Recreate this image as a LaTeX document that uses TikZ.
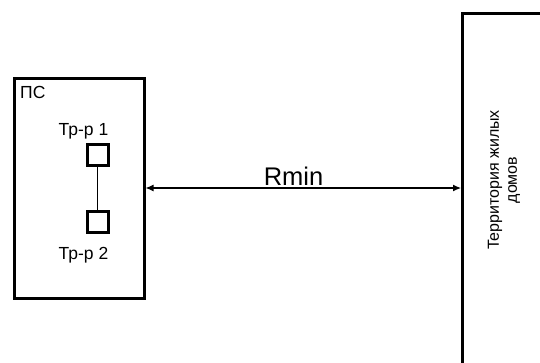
\documentclass[tikz,border=0pt]{standalone}
\usepackage{fontspec}
\setmainfont{Liberation Sans}
\usetikzlibrary{arrows.meta, positioning}

\begin{document}
\begin{tikzpicture}[
    x=1pt, y=-1pt,
    % Box and line styles
    psbox/.style={rectangle, draw=black, line width=3pt, fill=white,
        minimum width=130pt, minimum height=220pt, inner sep=0pt},
    zonebox/.style={rectangle, draw=black, line width=3pt, fill=white,
        minimum width=86pt, minimum height=420pt, inner sep=0pt},
    trbox/.style={rectangle, draw=black, line width=3pt, fill=white,
        minimum size=21pt, inner sep=0pt},
    smalllabel/.style={font=\fontsize{17.5}{19}\selectfont, inner sep=0pt},
    zonelabel/.style={font=\fontsize{16}{18}\selectfont, inner sep=0pt},
    rminlabel/.style={font=\fontsize{25.5}{28}\selectfont, inner sep=0pt},
    dimarrow/.style={{Latex[length=8pt,width=7pt]}-{Latex[length=8pt,width=7pt]}, line width=1.2pt},
    trlink/.style={line width=1pt, draw=black},
]

\useasboundingbox (0,0) rectangle (540,362);
\clip (0,0) rectangle (540,362);

% ============ Substation ============
\node[psbox] (ps) at (79,188) {};
\node[smalllabel, anchor=base west] (pslbl) at (20,98) {ПС};

\node[trbox] (tr1) at (97.5,155) {};
\node[trbox, below=42.5pt of tr1] (tr2) {};
\node[smalllabel, anchor=base] (tr1lbl) at (83.5,135) {Тр-р 1};
\node[smalllabel, anchor=base] (tr2lbl) at (83.5,259.5) {Тр-р 2};

\draw[trlink] (tr1) -- (tr2);

% ============ Residential area ============
\node[zonebox, anchor=north west] (zone) at (461,12) {};
\node[zonelabel, rotate=90, align=center] (zonelbl) at (504,180)
    {Территория жилых\\домов};

% ============ Distance ============
\draw[dimarrow] (ps.east) -- (ps.east -| zone.west);
\node[rminlabel, anchor=base] (rmin) at (293.5,185) {Rmin};

\end{tikzpicture}
\end{document}
